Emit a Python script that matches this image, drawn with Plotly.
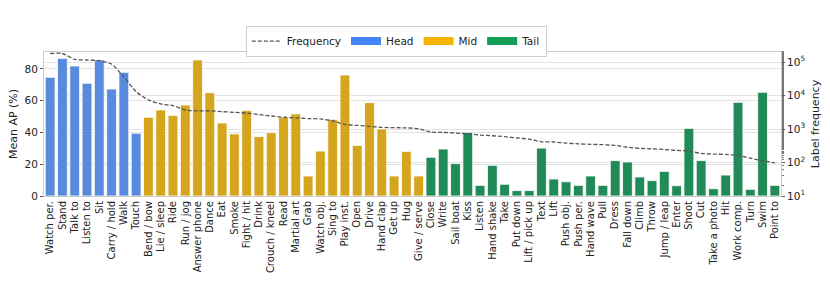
import plotly.graph_objects as go
from plotly.subplots import make_subplots

head_labels = ["Watch per.", "Stand", "Talk to", "Listen to", "Sit", "Carry / hold", "Walk", "Touch"]
mid_labels = ["Bend / bow", "Lie / sleep", "Ride", "Run / jog", "Answer phone", "Dance", "Eat", "Smoke",
              "Fight / hit", "Drink", "Crouch / kneel", "Read", "Martial art", "Grab", "Watch obj.",
              "Sing to", "Play inst.", "Open", "Drive", "Hand clap", "Get up", "Hug", "Give / serve"]
tail_labels = ["Close", "Write", "Sail boat", "Kiss", "Listen", "Hand shake", "Take", "Put down",
               "Lift / pick up", "Text", "Lift", "Push obj.", "Push per.", "Hand wave", "Pull", "Dress",
               "Fall down", "Climb", "Throw", "Jump / leap", "Enter", "Shoot", "Cut", "Take a photo",
               "Hit", "Work comp.", "Turn", "Swim", "Point to"]

head_ap = [74.8, 86.7, 81.9, 71.0, 85.7, 67.4, 77.9, 39.5]
mid_ap = [49.6, 54.2, 50.8, 57.3, 85.7, 65.1, 46.0, 39.1, 53.8, 37.4, 39.9, 49.6, 51.7, 12.6, 28.3,
          48.3, 76.2, 31.9, 58.8, 42.2, 12.6, 28.1, 12.6]
tail_ap = [24.4, 29.6, 20.4, 40.1, 6.7, 19.3, 7.4, 3.4, 3.4, 30.2, 10.7, 9.0, 6.7, 12.6, 6.7, 22.3,
           21.4, 12.0, 9.7, 15.5, 6.5, 42.6, 22.3, 4.6, 13.2, 59.0, 4.2, 65.3, 6.7]

frequency = [180000, 180000, 120000, 115000, 110000, 87000, 36000, 13000,
             7400, 5600, 5000, 3700, 3500, 3500, 3300, 3150, 3000, 2700, 2450, 2250, 2150, 2050, 2000,
             1750, 1380, 1290, 1200, 1120, 1100, 1080, 1020,
             810, 790, 760, 720, 660, 630, 590, 540, 500, 415, 410, 380, 360, 350, 340, 325,
             285, 265, 255, 245, 230, 220, 187, 178, 175, 163, 135, 112, 98]

all_labels = head_labels + mid_labels + tail_labels

legend_colors = {"Head": "#4285F4", "Mid": "#F4B400", "Tail": "#0F9D58"}
bar_colors = {"Head": "#588BDE", "Mid": "#D5A51E", "Tail": "#218B58"}

FONT = "DejaVu Sans"
fig = make_subplots(specs=[[{"secondary_y": True}]])

fig.add_trace(go.Scatter(x=all_labels, y=frequency, mode="lines", name="Frequency",
                         line=dict(color="#555555", width=1.3, dash="4px,2px", shape="spline", smoothing=0.6)),
              secondary_y=True)

for name in ["Head", "Mid", "Tail"]:
    fig.add_trace(go.Scatter(x=[all_labels[0]], y=[None], mode="lines", name=name,
                             line=dict(color=legend_colors[name], width=8)), secondary_y=False)

for name, labs, vals in [("Head", head_labels, head_ap), ("Mid", mid_labels, mid_ap), ("Tail", tail_labels, tail_ap)]:
    fig.add_trace(go.Bar(x=labs, y=vals, name=name, showlegend=False, width=0.8,
                         marker=dict(color=bar_colors[name], line=dict(color="#ffffff", width=0.8))),
                  secondary_y=False)

fig.update_layout(
    width=830, height=291,
    margin=dict(l=44, r=49, t=52, b=95, autoexpand=False),
    paper_bgcolor="white", plot_bgcolor="white",
    barmode="overlay",
    font=dict(family=FONT, size=10, color="#222222"),
    legend=dict(orientation="h", x=0.478, xanchor="center", yref="container", y=0.912, yanchor="top",
                bordercolor="#d0d0d0", borderwidth=1, bgcolor="white",
                font=dict(size=10.5), itemwidth=30, tracegroupgap=0),
)
fig.update_xaxes(domain=[0, 1], categoryorder="array", categoryarray=all_labels,
                 range=[-0.5, len(all_labels) - 0.5],
                 tickmode="array", tickvals=all_labels, ticktext=all_labels, automargin=False,
                 tickangle=-90, tickfont=dict(size=10), showline=True, linecolor="#cccccc", mirror=True,
                 showgrid=False, ticks="", ticklen=0)
fig.update_yaxes(range=[0, 90.7], tickvals=[0, 20, 40, 60, 80], showgrid=True, gridcolor="#e2e2e2",
                 gridwidth=1, zeroline=False, showline=True, linecolor="#cccccc", ticks="outside",
                 ticklen=3, tickcolor="#555555", tickfont=dict(size=10.5), automargin=False,
                 title=dict(text="Mean AP (%)", font=dict(size=11), standoff=4), secondary_y=False)
fig.update_yaxes(type="log", range=[1, 5.3], tickvals=[10, 100, 1000, 10000, 100000],
                 ticktext=["10<sup>1</sup>", "10<sup>2</sup>", "10<sup>3</sup>", "10<sup>4</sup>", "10<sup>5</sup>"],
                 showgrid=True, gridcolor="#e2e2e2", gridwidth=1, zeroline=False, showline=True,
                 linecolor="#cccccc", ticks="outside", ticklen=3, tickcolor="#555555",
                 tickfont=dict(size=10.5), automargin=False,
                 minor=dict(ticks="outside", ticklen=2, tickcolor="#777777", showgrid=False),
                 title=dict(text="Label frequency", font=dict(size=11), standoff=6), secondary_y=True)

fig.write_html("out.html", config={"displayModeBar": False},
               post_script="document.body.style.margin='0';")
